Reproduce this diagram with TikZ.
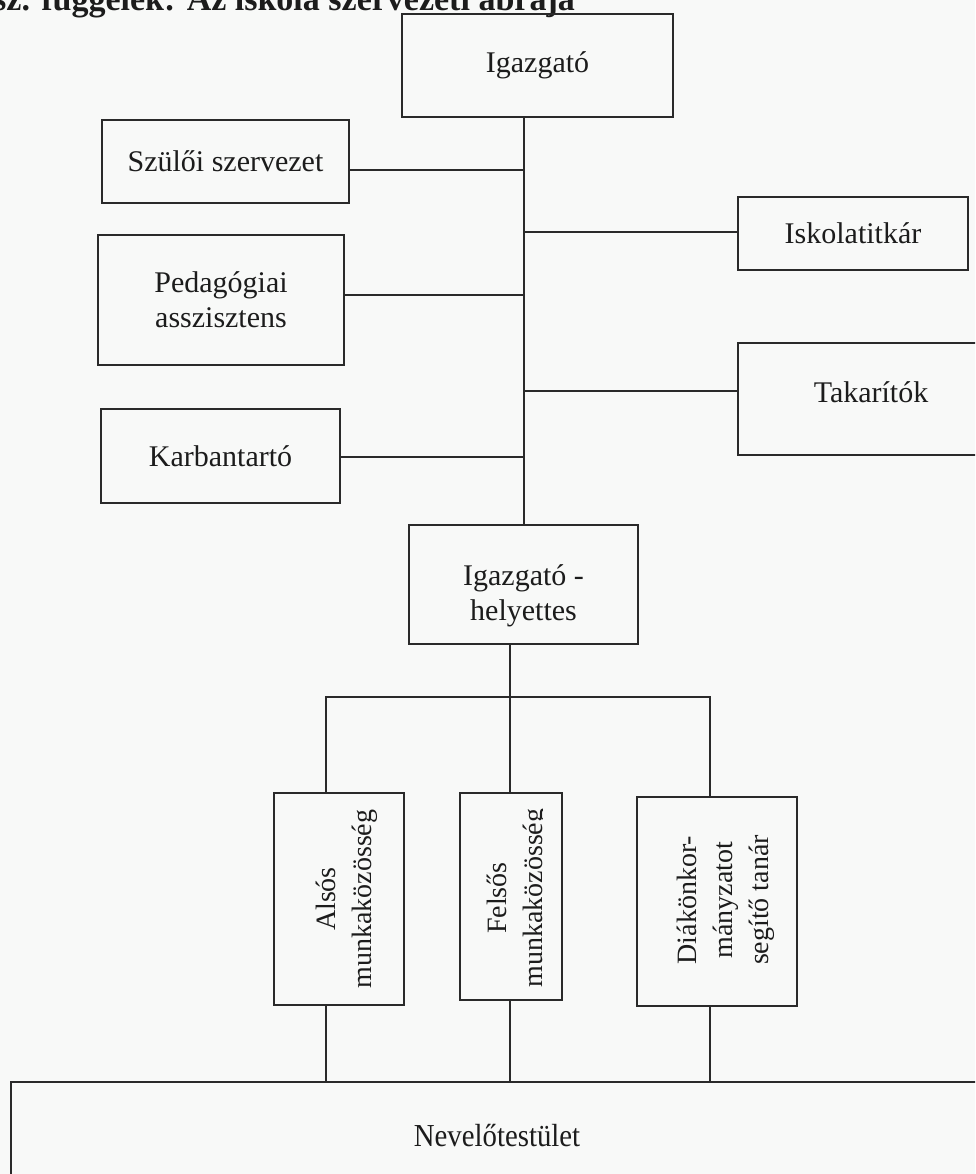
\documentclass[tikz,border=0pt]{standalone}
\usepackage{fontspec}
\setmainfont{Liberation Serif}
\definecolor{linec}{HTML}{2A2A2A}
\definecolor{txt}{HTML}{1C1C1C}
\definecolor{bg}{HTML}{F8F9F8}
\begin{document}
\begin{tikzpicture}[x=1pt,y=-1pt,
  box/.style={draw=linec, line width=2pt, rectangle, inner sep=0pt, outer sep=0pt,
    align=center, text=txt, font=\fontsize{30}{35}\selectfont},
  lbl/.style={inner sep=0pt, outer sep=0pt, align=center, text=txt, font=\fontsize{30}{35}\selectfont},
  vlbl/.style={inner sep=0pt, outer sep=0pt, align=center, text=txt, rotate=90,
    font=\fontsize{28}{36}\selectfont},
  conn/.style={draw=linec, line width=2pt}]
\useasboundingbox (0,0) rectangle (975,1174);
\clip (0,0) rectangle (975,1174);
\fill[bg] (0,0) rectangle (975,1174);

% title (cut off at the top edge)
\node[anchor=base west, inner sep=0pt, text=txt, font=\bfseries\fontsize{34}{40}\selectfont]
  (title) at (-7,11) {sz. függelék: Az iskola szervezeti ábrája};

% boxes
\node[box, minimum width=271pt, minimum height=103pt] (igaz) at (537.5,65.5) {Igazgató};
\node[box, minimum width=247pt, minimum height=83pt]  (szul) at (225.5,161.5) {Szülői szervezet};
\node[box, minimum width=230pt, minimum height=73pt]  (isk)  at (853,233.5) {Iskolatitkár};
\node[box, minimum width=246pt, minimum height=130pt] (ped)  at (221,300) {Pedagógiai\\asszisztens};
\node[box, minimum width=267pt, minimum height=112pt] (tak)  at (871.5,399) {};
\node[lbl] (takt) at (871,392) {Takarítók};
\node[box, minimum width=239pt, minimum height=94pt]  (karb) at (220.5,456) {Karbantartó};
\node[box, minimum width=229pt, minimum height=119pt] (hely) at (523.5,584.5) {};
\node[lbl] (helyt) at (523.5,596) {Igazgató -\\helyettes};

\node[box, minimum width=130pt, minimum height=212pt] (als)  at (339,899) {};
\node[vlbl] (alst) at (347,899) {Alsós\\munkaközösség};
\node[box, minimum width=102pt, minimum height=207pt] (fels) at (511,896.5) {};
\begin{scope}
  \clip (fels.south west) rectangle ([xshift=-20pt]fels.north east);
  \node[vlbl] (felst) at (518,898) {Felsős\\munkaközösség};
\end{scope}
\node[box, minimum width=160pt, minimum height=209pt] (diak) at (717,901.5) {};
\node[vlbl] (diakt) at (726,900) {Diákönkor-\\mányzatot\\segítő tanár};

\node[box, minimum width=1000pt, minimum height=180pt] (nev) at (511,1172) {};
\node[lbl, font=\fontsize{32}{36}\selectfont, xscale=0.9] (nevt) at (497,1136) {Nevelőtestület};

% trunk
\draw[conn] (hely.north) -- (hely.north |- igaz.south);
% side branches
\draw[conn] ([yshift=-9pt]szul.east) -- ([yshift=-9pt]szul.east -| hely.north);
\draw[conn] ([yshift=1pt]isk.west) -- ([yshift=1pt]isk.west -| hely.north);
\draw[conn] ([yshift=5pt]ped.east) -- ([yshift=5pt]ped.east -| hely.north);
\draw[conn] ([yshift=8pt]tak.west) -- ([yshift=8pt]tak.west -| hely.north);
\draw[conn] ([yshift=-1pt]karb.east) -- ([yshift=-1pt]karb.east -| hely.north);

% lower tree
\coordinate (busL) at (326,697);
\coordinate (busM) at (510,697);
\coordinate (busR) at (710,697);
\draw[conn] (busM |- hely.south) -- (busM);
\draw[conn] (busL |- als.north) -- (busL) -- (busR) -- (busR |- diak.north);
\draw[conn] (busM) -- (busM |- fels.north);
\draw[conn] (busL |- als.south) -- (busL |- nev.north);
\draw[conn] (busM |- fels.south) -- (busM |- nev.north);
\draw[conn] (busR |- diak.south) -- (busR |- nev.north);
\end{tikzpicture}
\end{document}
